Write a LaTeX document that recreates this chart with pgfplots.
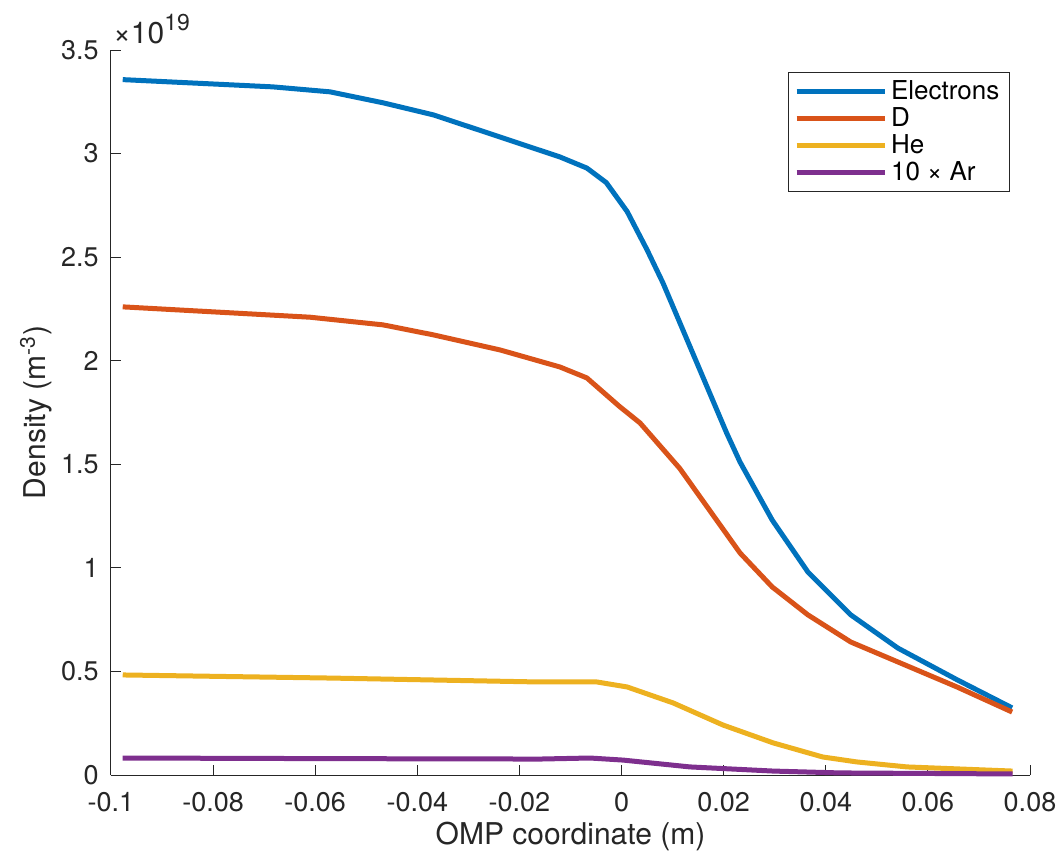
\documentclass[border=0pt]{standalone}
\usepackage{pgfplots}
\pgfplotsset{compat=1.18}
\usepackage{fontspec}
\setmainfont{TeX Gyre Heros}
\definecolor{mblue}{rgb}{0,0.447,0.741}
\definecolor{morange}{rgb}{0.85,0.325,0.098}
\definecolor{myellow}{rgb}{0.929,0.694,0.125}
\definecolor{mpurple}{rgb}{0.494,0.184,0.556}
\definecolor{axgray}{rgb}{0.15,0.15,0.15}
\begin{document}
\begin{tikzpicture}
\begin{axis}[
  name=ax,
  scale only axis,
  width=459.5pt, height=362.5pt,
  xmin=-0.1, xmax=0.08, ymin=0, ymax=3.5,
  axis lines=left,
  axis line style={-, axgray, line width=0.5pt},
  tick style={axgray, line width=0.5pt},
  tick align=inside,
  major tick length=5pt,
  xtick={-0.1,-0.08,-0.06,-0.04,-0.02,0,0.02,0.04,0.06,0.08},
  xticklabels={-0.1,-0.08,-0.06,-0.04,-0.02,0,0.02,0.04,0.06,0.08},
  ytick={0,0.5,1,1.5,2,2.5,3,3.5},
  yticklabels={0,0.5,1,1.5,2,2.5,3,3.5},
  tick label style={font=\fontsize{13.5}{15}\selectfont, text=axgray, inner sep=0pt},
  xticklabel style={yshift=-8.5pt},
  yticklabel style={xshift=-6pt},
  xlabel={OMP coordinate (m)},
  ylabel={Density (m\textsuperscript{-3})},
  xlabel style={font=\fontsize{15}{17}\selectfont, text=axgray, at={(axis description cs:0.5,0)}, anchor=center, yshift=-30.5pt},
  ylabel style={font=\fontsize{15}{17}\selectfont, text=axgray, at={(axis description cs:0,0.5)}, anchor=center, yshift=37.5pt},
  legend style={at={(rel axis cs:0.978,0.969)}, anchor=north east, draw=axgray, line width=0.5pt,
    font=\fontsize{13}{15}\selectfont, inner xsep=3pt, inner ysep=2pt, row sep=-1.5pt, cells={anchor=west}},
  legend image code/.code={\draw[#1, line width=2.5pt] (0cm,0cm) -- (44pt,0cm);},
  legend cell align=left,
  clip=false,
  every axis plot/.append style={line width=2.5pt, line join=round},
]
\addplot[mblue] coordinates {
(-0.0977,3.357) (-0.0683,3.322) (-0.0571,3.298) (-0.0467,3.245) (-0.0369,3.187) (-0.0238,3.08)
(-0.0121,2.984) (-0.0068,2.93) (-0.003,2.86) (0.0011,2.72) (0.005,2.535) (0.0081,2.376)
(0.0206,1.65) (0.0232,1.511) (0.0295,1.231) (0.0365,0.98) (0.0449,0.773) (0.0541,0.613)
(0.0657,0.46) (0.0765,0.324)};
\addlegendentry{Electrons}
\addplot[morange] coordinates {
(-0.0977,2.26) (-0.061,2.21) (-0.0467,2.173) (-0.0369,2.125) (-0.0238,2.052) (-0.0121,1.97)
(-0.0068,1.917) (-0.0003,1.777) (0.0036,1.70) (0.0114,1.48) (0.0232,1.072) (0.0295,0.908)
(0.0365,0.773) (0.0449,0.642) (0.0541,0.546) (0.0657,0.425) (0.0765,0.304)};
\addlegendentry{D}
\addplot[myellow] coordinates {
(-0.0977,0.483) (-0.057,0.468) (-0.016,0.449) (-0.0048,0.449) (0.0011,0.425) (0.0101,0.348)
(0.0199,0.241) (0.0297,0.155) (0.0394,0.087) (0.0461,0.063) (0.0559,0.039) (0.0766,0.019)};
\addlegendentry{He}
\addplot[mpurple] coordinates {
(-0.0977,0.082) (-0.057,0.079) (-0.016,0.077) (-0.0062,0.082) (0.0003,0.072) (0.0134,0.039)
(0.0297,0.019) (0.0428,0.01) (0.0766,0.005)};
\addlegendentry{10 × Ar}
\node[anchor=south west, inner sep=0pt, xshift=1pt, yshift=3pt, text=axgray] at (rel axis cs:0,1) {{\fontsize{15}{17}\selectfont ×10}\raisebox{0.62em}{\fontsize{11.5}{13}\selectfont 19}};
\end{axis}
\pgfresetboundingbox
\path[use as bounding box] ([xshift=-55.5pt,yshift=-41pt]ax.south west) rectangle ([xshift=15pt,yshift=25pt]ax.north east);
\end{tikzpicture}
\end{document}
